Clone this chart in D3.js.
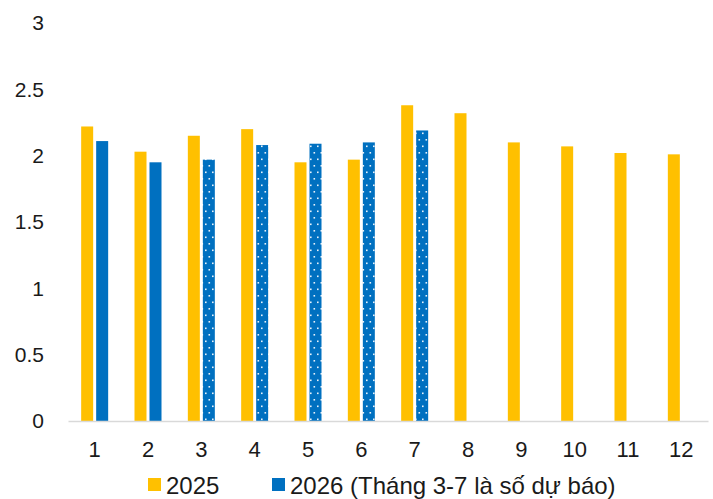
<!DOCTYPE html>
<html>
<head>
<meta charset="utf-8">
<script src="https://cdn.jsdelivr.net/npm/d3@7"></script>
<style>
  html, body { margin: 0; padding: 0; background: #fff; }
  svg { display: block; font-family: "Liberation Sans", Arial, sans-serif; }
</style>
</head>
<body>
<svg id="chart" width="713" height="499"></svg>
<script>
// Monthly values, 2025 vs 2026 (months 3-7 of 2026 are forecasts)
const months = ["1", "2", "3", "4", "5", "6", "7", "8", "9", "10", "11", "12"];
const values2025 = [2.22, 2.03, 2.15, 2.20, 1.95, 1.97, 2.38, 2.32, 2.10, 2.07, 2.02, 2.01];
const values2026 = [2.11, 1.95, 1.97, 2.08, 2.09, 2.10, 2.19];
const forecastMonths = ["3", "4", "5", "6", "7"];
const yTicks = [0, 0.5, 1, 1.5, 2, 2.5, 3];
const legendLabels = ["2025", "2026 (Tháng 3-7 là số dự báo)"];

const colors = { y2025: "#FFC000", y2026: "#0070C0" };
const textColor = "#1a1a1a";

const svg = d3.select("#chart");
const margin = { top: 23, right: 5, bottom: 78, left: 68 };
const width = 713, height = 499;

const x = d3.scaleBand()
  .domain(months)
  .range([margin.left, width - margin.right])
  .paddingInner(0).paddingOuter(0);

const y = d3.scaleLinear()
  .domain([0, 3])
  .range([height - margin.bottom, margin.top]);

// Dotted fill for forecast bars
const defs = svg.append("defs");
const pat = defs.append("pattern")
  .attr("id", "forecast")
  .attr("patternUnits", "userSpaceOnUse")
  .attr("width", 7).attr("height", 13);
pat.append("rect").attr("width", 7).attr("height", 13).attr("fill", colors.y2026);
pat.append("rect").attr("x", 2).attr("y", 2.5).attr("width", 1.6).attr("height", 1.6).attr("fill", "#e8f2fb");
pat.append("rect").attr("x", 5.5).attr("y", 9).attr("width", 1.6).attr("height", 1.6).attr("fill", "#e8f2fb");
pat.append("rect").attr("x", -1.5).attr("y", 9).attr("width", 1.6).attr("height", 1.6).attr("fill", "#e8f2fb");

const barW = 12, gap = 3;
const groupW = barW * 2 + gap;

// 2025 bars
svg.append("g").selectAll("rect")
  .data(months.map((m, i) => ({ m, v: values2025[i] })))
  .join("rect")
  .attr("x", d => x(d.m) + (x.bandwidth() - groupW) / 2)
  .attr("y", d => y(d.v))
  .attr("width", barW)
  .attr("height", d => y(0) - y(d.v))
  .attr("fill", colors.y2025);

// 2026 bars
svg.append("g").selectAll("rect")
  .data(values2026.map((v, i) => ({ m: months[i], v })))
  .join("rect")
  .attr("x", d => x(d.m) + (x.bandwidth() - groupW) / 2 + barW + gap)
  .attr("y", d => y(d.v))
  .attr("width", barW)
  .attr("height", d => y(0) - y(d.v))
  .attr("fill", d => forecastMonths.includes(d.m) ? "url(#forecast)" : colors.y2026);

// X axis
const xAxis = svg.append("g")
  .attr("transform", `translate(0,${y(0)})`)
  .call(d3.axisBottom(x).tickSize(0).tickPadding(20));
xAxis.select(".domain").attr("stroke", "#d9d9d9").attr("stroke-width", 1.3);
xAxis.selectAll("text").attr("font-size", 22).attr("fill", textColor)
  .attr("font-family", "'Liberation Sans', Arial, sans-serif");

// Y axis (labels only)
const yAxis = svg.append("g")
  .attr("transform", `translate(${margin.left},0)`)
  .call(d3.axisLeft(y).tickValues(yTicks).tickFormat(d3.format("")).tickSize(0).tickPadding(24));
yAxis.select(".domain").remove();
yAxis.selectAll("text").attr("font-size", 21).attr("fill", textColor)
  .attr("font-family", "'Liberation Sans', Arial, sans-serif");

// Legend
const legend = svg.append("g").attr("transform", "translate(0,494)");
const legendItems = [
  { label: legendLabels[0], color: colors.y2025, x: 148 },
  { label: legendLabels[1], color: colors.y2026, x: 272 }
];
legendItems.forEach(it => {
  legend.append("rect").attr("x", it.x).attr("y", -16).attr("width", 13).attr("height", 13).attr("fill", it.color);
  legend.append("text").attr("x", it.x + 18).attr("y", 0)
    .attr("font-size", 24).attr("fill", textColor).text(it.label);
});
</script>
</body>
</html>
